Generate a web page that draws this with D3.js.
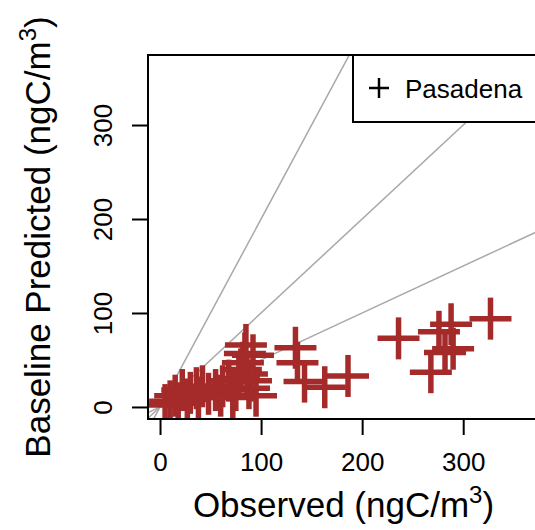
<!DOCTYPE html>
<html>
<head>
<meta charset="utf-8">
<script src="https://cdn.jsdelivr.net/npm/d3@7"></script>
<style>
  html, body { margin: 0; padding: 0; background: #fff; }
  svg { display: block; font-family: "Liberation Sans", Arial, sans-serif; }
</style>
</head>
<body>
<svg id="chart" width="535" height="530"></svg>
<script>
// ---- data ----
const observed = [5, 10, 15, 18, 22, 27, 30, 36, 38, 42, 48, 55, 60, 62, 68, 72, 75, 78, 80, 82, 84, 85, 86, 88, 90, 92, 95, 134, 136, 143, 163, 186, 236, 268, 276, 282, 288, 290, 327];
const predicted = [2, 6, 12, 4, 18, 8, 15, 20, 10, 22, 14, 18, 12, 22, 28, 10, 18, 30, 40, 47, 57, 66, 35, 20, 28, 55, 12, 63, 47, 27, 21, 33, 73, 37, 80, 58, 88, 62, 94];
const xTicks = [0, 100, 200, 300];
const yTicks = [0, 100, 200, 300];
const refSlopes = [2, 1, 0.5];
const legendLabel = "Pasadena";

const svg = d3.select("#chart");
const pL = 148, pT = 55, pR = 539, pB = 419;

const x = d3.scaleLinear().domain([-11.9, 375]).range([pL, pR]);
const y = d3.scaleLinear().domain([-12.8, 374.5]).range([pB, pT]);

svg.append("defs").append("clipPath").attr("id", "plotclip")
  .append("rect").attr("x", pL).attr("y", pT)
  .attr("width", pR - pL).attr("height", pB - pT);

const plot = svg.append("g").attr("clip-path", "url(#plotclip)");

// reference lines through origin
const xd = x.domain();
plot.selectAll("line.ref").data(refSlopes).enter().append("line")
  .attr("class", "ref")
  .attr("x1", x(xd[0])).attr("y1", d => y(d * xd[0]))
  .attr("x2", x(xd[1])).attr("y2", d => y(d * xd[1]))
  .attr("stroke", "#a8a8a8").attr("stroke-width", 1.5);

// points: "+" markers
const pts = observed.map((v, i) => ({x: v, y: predicted[i]}));
const arm = 21;
const cross = plot.selectAll("g.pt").data(pts).enter().append("g")
  .attr("class", "pt")
  .attr("transform", d => `translate(${x(d.x)},${y(d.y)})`);
cross.append("line").attr("x1", -arm).attr("x2", arm).attr("y1", 0).attr("y2", 0)
  .attr("stroke", "#A52A2A").attr("stroke-width", 5.5);
cross.append("line").attr("y1", -arm).attr("y2", arm).attr("x1", 0).attr("x2", 0)
  .attr("stroke", "#A52A2A").attr("stroke-width", 5.5);

// axes
const xAxis = svg.append("g").attr("transform", `translate(0,${pB})`)
  .call(d3.axisBottom(x).tickValues(xTicks).tickSize(16).tickSizeOuter(0).tickFormat(d3.format("d")));
xAxis.select(".domain").remove();
xAxis.selectAll(".tick line").attr("stroke", "#000").attr("stroke-width", 2);
xAxis.selectAll(".tick text").attr("y", 52).attr("dy", 0)
  .attr("font-size", 26).attr("fill", "#000")
  .attr("font-family", "Liberation Sans, Arial, sans-serif");

const yAxis = svg.append("g").attr("transform", `translate(${pL},0)`)
  .call(d3.axisLeft(y).tickValues(yTicks).tickSize(16).tickSizeOuter(0).tickFormat(d3.format("d")));
yAxis.select(".domain").remove();
yAxis.selectAll(".tick line").attr("stroke", "#000").attr("stroke-width", 2);
yAxis.selectAll(".tick text")
  .attr("transform", "rotate(-90)")
  .attr("x", 0).attr("y", -36).attr("dy", 0)
  .attr("text-anchor", "middle")
  .attr("font-size", 26).attr("fill", "#000")
  .attr("font-family", "Liberation Sans, Arial, sans-serif");

// box
svg.append("rect").attr("x", pL).attr("y", pT)
  .attr("width", pR - pL).attr("height", pB - pT)
  .attr("fill", "none").attr("stroke", "#000").attr("stroke-width", 2);

// legend
const lg = svg.append("g");
lg.append("rect").attr("x", 353).attr("y", pT).attr("width", 200).attr("height", 67)
  .attr("fill", "#fff").attr("stroke", "#000").attr("stroke-width", 2);
lg.append("line").attr("x1", 369).attr("x2", 389).attr("y1", 88).attr("y2", 88)
  .attr("stroke", "#000").attr("stroke-width", 2.5);
lg.append("line").attr("x1", 379).attr("x2", 379).attr("y1", 78).attr("y2", 98)
  .attr("stroke", "#000").attr("stroke-width", 2.5);
lg.append("text").attr("x", 405).attr("y", 98).attr("font-size", 26)
  .attr("fill", "#000").text(legendLabel);

// axis titles
const xl = svg.append("text").attr("x", (pL + pR) / 2).attr("y", 517)
  .attr("text-anchor", "middle").attr("font-size", 35).attr("fill", "#000");
xl.append("tspan").text("Observed (ngC/m");
xl.append("tspan").attr("font-size", 24).attr("dy", -14).text("3");
xl.append("tspan").attr("dy", 14).text(")");

const yl = svg.append("text")
  .attr("transform", `translate(50,${(pT + pB) / 2}) rotate(-90)`)
  .attr("text-anchor", "middle").attr("font-size", 35).attr("fill", "#000");
yl.append("tspan").text("Baseline Predicted (ngC/m");
yl.append("tspan").attr("font-size", 24).attr("dy", -14).text("3");
yl.append("tspan").attr("dy", 14).text(")");
</script>
</body>
</html>
